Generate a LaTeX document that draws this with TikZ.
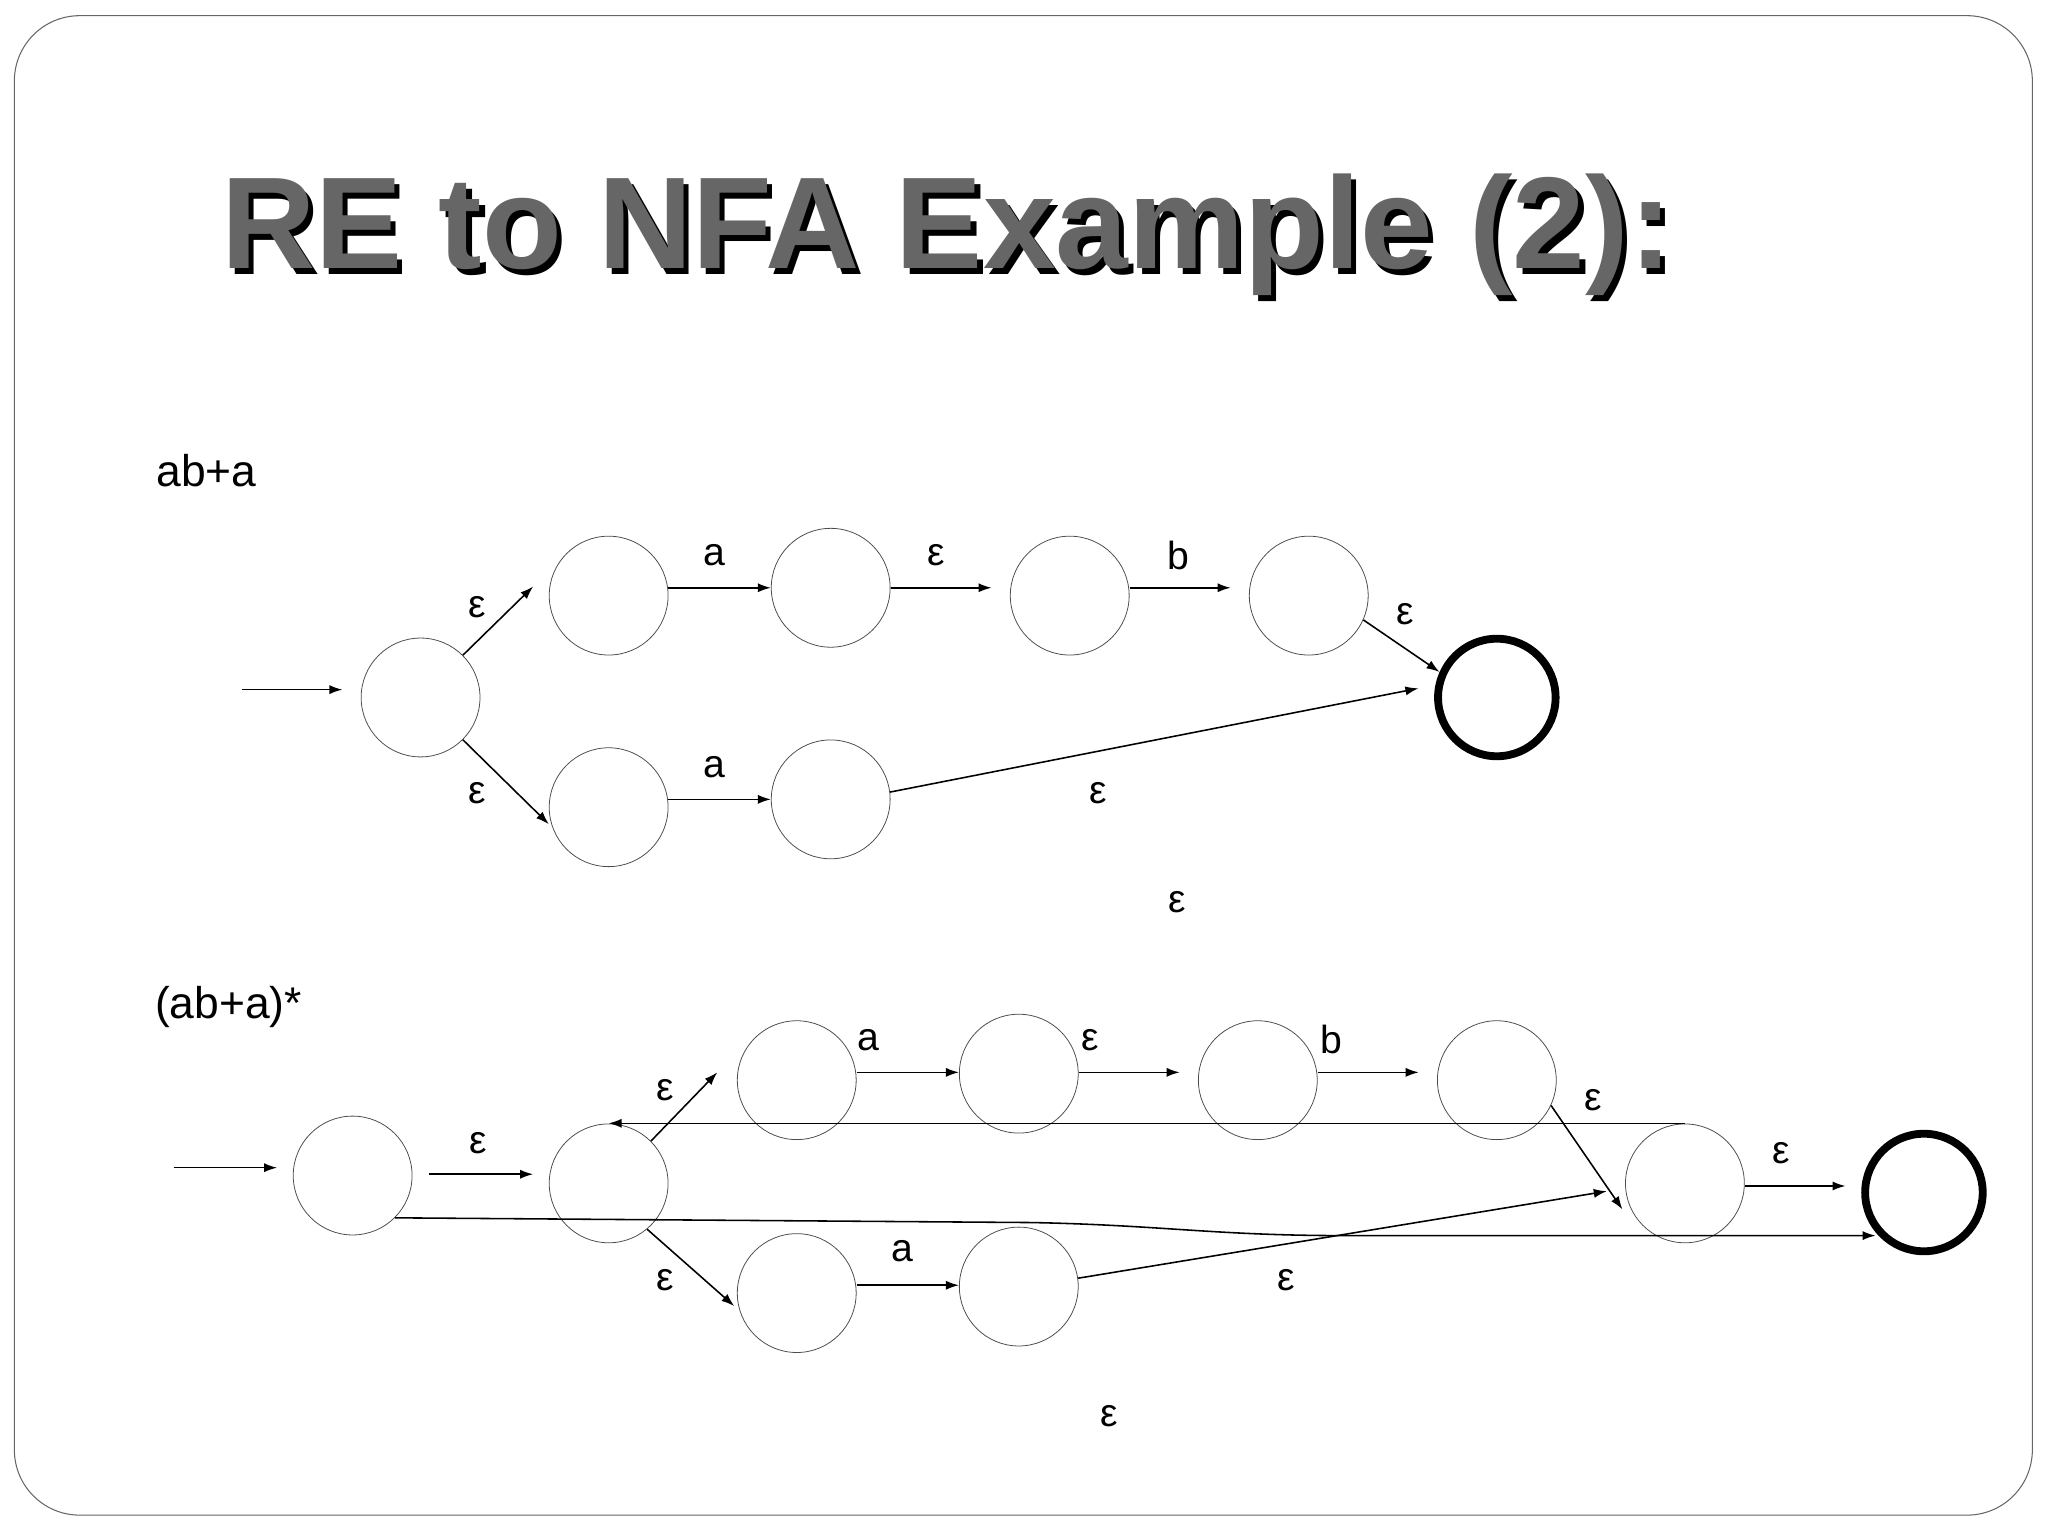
\documentclass[tikz,border=0pt]{standalone}
\usepackage{fontspec}
\setmainfont{Liberation Sans}
\usetikzlibrary{arrows.meta}
\begin{document}
\begin{tikzpicture}[x=1pt,y=-1pt,
  st/.style={circle,draw=black!70,line width=0.6pt,minimum size=91pt,inner sep=0pt},
  fin/.style={circle,draw=black,line width=6pt,minimum size=90pt,inner sep=0pt},
  ar/.style={-{Latex[length=10pt,width=7pt]},line width=1.2pt},
  lb/.style={font=\fontsize{30}{30}\selectfont},
  re/.style={font=\fontsize{34}{34}\selectfont}]
\useasboundingbox (0,0) rectangle (1568,1176);
\draw[black!60,line width=0.8pt,rounded corners=50pt] (11,12) rectangle (1556,1160);
\node[font=\bfseries\fontsize{100}{100}\selectfont,text=black] (tsh) at (729,184) {RE to NFA Example (2):};
\node[font=\bfseries\fontsize{100}{100}\selectfont,text=black!60] (title) at (725,180) {RE to NFA Example (2):};
% top
\node[re] (re1) at (158,360) {ab+a};
\node[st] (s0) at (322,534) {};
\node[st] (s1) at (466,456) {};
\node[st] (s2) at (636,450) {};
\node[st] (s3) at (819,456) {};
\node[st] (s4) at (1002,456) {};
\node[st] (s5) at (466,618) {};
\node[st] (s6) at (636,612) {};
\node[fin] (sf) at (1146,534) {};
\coordinate (in1) at (185,528);
\coordinate (y1) at (0,450);
\coordinate (y2) at (0,612);
\draw[ar] (in1) -- ([xshift=-14pt]s0.west |- in1);
\draw[ar] (s0.45) -- ([xshift=-12pt,yshift=7pt]s1.west);
\draw[ar] (s0.-45) -- ([yshift=-13pt]s5.west);
\draw[ar] (s1.east |- y1) -- (s2.west |- y1);
\draw[ar] (s2.east |- y1) -- ([xshift=-14pt]s3.west |- y1);
\draw[ar] (s3.east |- y1) -- ([xshift=-14pt]s4.west |- y1);
\draw[ar] (s4.-24) -- (sf.156);
\draw[ar] (s5.east |- y2) -- (s6.west |- y2);
\draw[ar] (s6.7) -- ([xshift=-12pt,yshift=7pt]sf.west);
\node[lb] (l1) at (365,465) {ε};
\node[lb] (l2) at (547,425) {a};
\node[lb] (l3) at (717,425) {ε};
\node[lb] (l4) at (902,425) {b};
\node[lb] (l5) at (1076,470) {ε};
\node[lb] (l6) at (365,607) {ε};
\node[lb] (l7) at (547,587) {a};
\node[lb] (l8) at (841,607) {ε};
\node[lb] (l9) at (901,691) {ε};
% bottom
\node[re] (re2) at (175,771) {(ab+a)*};
\node[st] (t0) at (270,900) {};
\node[st] (t1) at (466,906) {};
\node[st] (t2) at (610,827) {};
\node[st] (t3) at (780,822) {};
\node[st] (t4) at (963,827) {};
\node[st] (t5) at (1146,827) {};
\node[st] (t6) at (1290,906) {};
\node[st] (t7) at (610,990) {};
\node[st] (t8) at (780,985) {};
\node[fin] (tf) at (1473,913) {};
\coordinate (in2) at (133,894);
\coordinate (y3) at (0,899);
\coordinate (y4) at (0,821);
\coordinate (y5) at (0,984);
\coordinate (y6) at (0,908);
\coordinate (y7) at (0,912);
\coordinate (y8) at (0,860);
\draw[ar] (in2) -- ([xshift=-12pt]t0.west |- in2);
\draw[ar] ([xshift=13pt]t0.east |- y3) -- ([xshift=-12pt]t1.west |- y3);
\draw[ar] (t1.45) -- ([xshift=-15pt,yshift=6pt]t2.west);
\draw[ar] (t1.-50) -- ([xshift=-2pt,yshift=-10pt]t7.west);
\draw[ar] (t2.east |- y4) -- (t3.west |- y4);
\draw[ar] (t3.east |- y4) -- ([xshift=-14pt]t4.west |- y4);
\draw[ar] (t4.east |- y4) -- ([xshift=-14pt]t5.west |- y4);
\draw[ar] (t5.-25) -- ([xshift=-2pt,yshift=-20pt]t6.west);
\draw[ar] (t6.center |- y8) -- (t1.center |- y8);
\draw[ar] (t6.east |- y6) -- ([xshift=-12pt]tf.west |- y6);
\draw[ar] (t7.east |- y5) -- (t8.west |- y5);
\draw[ar] (t8.8) -- ([xshift=-14pt]t6.west |- y7);
\draw[ar] (t0.-45) -- (790,936) .. controls (890,938) and (930,946) .. (1030,946) -- (1436,946);
\node[lb] (m1) at (366,875) {ε};
\node[lb] (m2) at (509,835) {ε};
\node[lb] (m3) at (665,796) {a};
\node[lb] (m4) at (835,796) {ε};
\node[lb] (m5) at (1019,796) {b};
\node[lb] (m6) at (1220,842) {ε};
\node[lb] (m7) at (1364,883) {ε};
\node[lb] (m8) at (509,980) {ε};
\node[lb] (m9) at (691,958) {a};
\node[lb] (m10) at (985,980) {ε};
\node[lb] (m11) at (849,1084) {ε};
\end{tikzpicture}
\end{document}
